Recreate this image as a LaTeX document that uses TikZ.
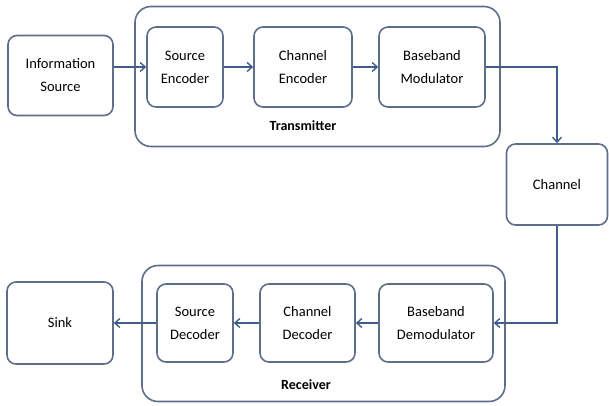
\documentclass[tikz,border=0pt]{standalone}
\usepackage{fontspec}
\setmainfont{Carlito}
\usetikzlibrary{arrows.meta}
\definecolor{boxc}{HTML}{5E6E8A}
\definecolor{arrc}{HTML}{3F5E8C}
\begin{document}
\begin{tikzpicture}[x=1pt,y=-1pt,
  blk/.style={draw=boxc,line width=1.6pt,rounded corners=9pt,align=center,
    font=\fontsize{14.5}{23}\selectfont,inner sep=0pt},
  grp/.style={draw=boxc,line width=1.6pt,rounded corners=16pt,inner sep=0pt},
  conn/.style={draw=arrc,line width=1.4pt,-{Straight Barb[length=5pt,width=9pt,line width=1.4pt]}},
  lbl/.style={font=\bfseries\fontsize{14}{16}\selectfont}]
\useasboundingbox (0,0) rectangle (609,405);
% groups
\node[grp,minimum width=365pt,minimum height=140pt] (tx) at (317.5,76.5) {};
\node[grp,minimum width=363pt,minimum height=136pt] (rx) at (323.5,333.5) {};
% blocks
\node[blk,minimum width=105pt,minimum height=80pt] (info) at (60.5,75.5) {Information\\Source};
\node[blk,minimum width=76pt,minimum height=80pt] (senc) at (185,67) {Source\\Encoder};
\node[blk,minimum width=98pt,minimum height=80pt] (cenc) at (303,67) {Channel\\Encoder};
\node[blk,minimum width=106pt,minimum height=80pt] (bmod) at (432,67) {Baseband\\Modulator};
\node[blk,minimum width=101pt,minimum height=81pt] (chan) at (557,184.5) {Channel};
\node[blk,minimum width=114pt,minimum height=78pt] (bdem) at (436,323) {Baseband\\Demodulator};
\node[blk,minimum width=95pt,minimum height=78pt] (cdec) at (307.5,323) {Channel\\Decoder};
\node[blk,minimum width=76pt,minimum height=78pt] (sdec) at (195,323) {Source\\Decoder};
\node[blk,minimum width=106pt,minimum height=82pt] (sink) at (60,323) {Sink};
% labels
\node[lbl] (txl) at (303,126) {Transmitter};
\node[lbl] (rxl) at (306,385) {Receiver};
% connectors
\draw[conn] (info.east |- senc.west) -- (senc.west);
\draw[conn] (senc) -- (cenc);
\draw[conn] (cenc) -- (bmod);
\draw[conn] (bmod.east) -| (chan.north);
\draw[conn] (chan.south) |- (bdem.east);
\draw[conn] (bdem) -- (cdec);
\draw[conn] (cdec) -- (sdec);
\draw[conn] (sdec) -- (sink);
\end{tikzpicture}
\end{document}
